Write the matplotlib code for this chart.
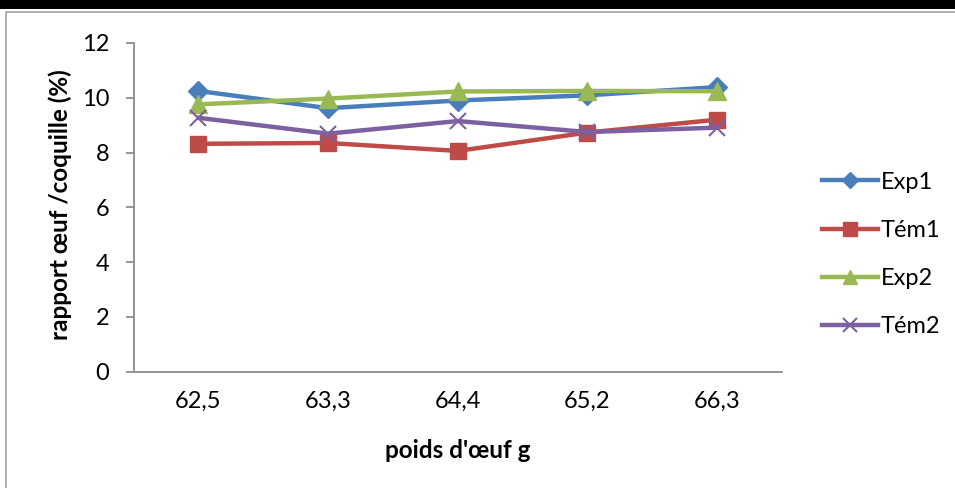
import matplotlib.pyplot as plt
from matplotlib.patches import Rectangle

categories = ["62,5", "63,3", "64,4", "65,2", "66,3"]
exp1 = [10.25, 9.62, 9.9, 10.09, 10.39]
tem1 = [8.32, 8.35, 8.06, 8.73, 9.2]
exp2 = [9.76, 9.97, 10.23, 10.25, 10.24]
tem2 = [9.27, 8.69, 9.15, 8.75, 8.91]

plt.rcParams['font.family'] = ['Lato', 'DejaVu Sans']

fig = plt.figure(figsize=(9.55, 4.88), dpi=100)

# black strip on top and grey frame of the chart area
fig.patches.append(Rectangle((0, 0.982), 1, 0.018, transform=fig.transFigure,
                             facecolor='black', edgecolor='none'))
fig.patches.append(Rectangle((6 / 955, -0.1), 1.1, (488 - 12) / 488 + 0.1,
                             transform=fig.transFigure, facecolor='none',
                             edgecolor='#a0a0a0', linewidth=1.2))

ax = fig.add_axes([0.1398, 0.2383, 0.679, 0.6736])
x = range(len(categories))

ax.plot(x, exp1, color='#4A7EBB', lw=3.2, marker='D', ms=10, label='Exp1')
ax.plot(x, tem1, color='#BE4B48', lw=3.2, marker='s', ms=12, label='Tém1')
ax.plot(x, exp2, color='#98B954', lw=3.2, marker='^', ms=13, label='Exp2')
ax.plot(x, tem2, color='#7D60A0', lw=3.2, marker='x', ms=12, mew=1.5, label='Tém2')

ax.set_xlim(-0.5, len(categories) - 0.5)
ax.set_ylim(0, 12)
ax.set_yticks(range(0, 13, 2))
ax.set_xticks(list(x))
ax.set_xticklabels(categories)

for s in ['top', 'right']:
    ax.spines[s].set_visible(False)
for s in ['left', 'bottom']:
    ax.spines[s].set_color('#8c8c8c')
    ax.spines[s].set_linewidth(1.3)

ax.tick_params(axis='y', length=5.5, width=1.3, color='#8c8c8c', labelsize=17, pad=12)
ax.tick_params(axis='x', length=0, labelsize=17, pad=14)

ax.set_xlabel("poids d'œuf g", fontsize=17.5, fontweight='bold')
ax.set_ylabel("rapport œuf /coquille (%)", fontsize=17.5, fontweight='bold')
ax.xaxis.set_label_coords(0.5, -0.205)
ax.yaxis.set_label_coords(-0.095, 0.507)

ax.legend(loc='center left', bbox_to_anchor=(1.061, 0.357), frameon=False,
          fontsize=17, handlelength=2.4, handletextpad=0.12, labelspacing=1.15,
          borderpad=0, borderaxespad=0, markerscale=0.8)

fig.savefig("out.png", dpi=100)
